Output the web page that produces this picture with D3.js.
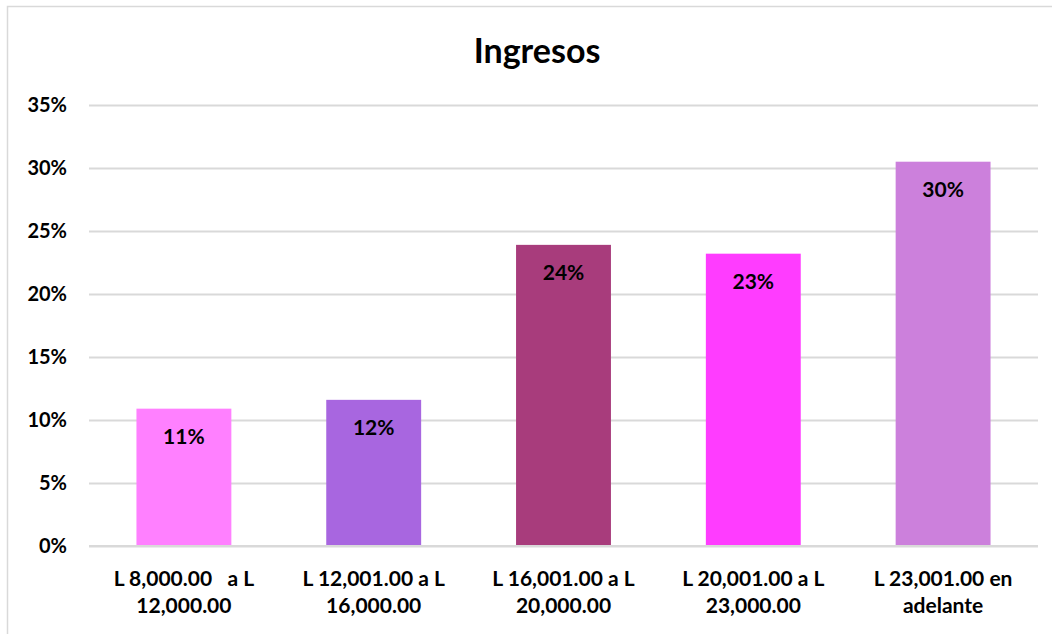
<!DOCTYPE html>
<html>
<head>
<meta charset="utf-8">
<script src="https://cdn.jsdelivr.net/npm/d3@7"></script>
<style>
  body { margin: 0; background: #fff; }
  svg { display: block; font-family: Lato, "Open Sans", sans-serif; }
</style>
</head>
<body>
<div class="ingresos-chart"></div>
<script>
const categories = [
	["L 8,000.00   a L", "12,000.00"],
	["L 12,001.00 a L", "16,000.00"],
	["L 16,001.00 a L", "20,000.00"],
	["L 20,001.00 a L", "23,000.00"],
	["L 23,001.00 en", "adelante"]
];
const values = [0.109, 0.116, 0.239, 0.232, 0.305];
const valueLabels = ["11%", "12%", "24%", "23%", "30%"];
const barColors = ["#ff80ff", "#a866e0", "#a83c7c", "#ff3cff", "#cc80dc"];
const yTicks = [0, 0.05, 0.1, 0.15, 0.2, 0.25, 0.3, 0.35];

const W = 1052, H = 634;
const margin = { top: 105, right: 14, bottom: 88, left: 89 },
	width = W - margin.left - margin.right,
	height = H - margin.top - margin.bottom;

const svg = d3.select(".ingresos-chart")
	.append("svg")
	.attr("width", W)
	.attr("height", H);

// chart area border
svg.append("rect")
	.attr("x", 7.5).attr("y", 6.5)
	.attr("width", W).attr("height", H)
	.attr("fill", "none")
	.attr("stroke", "#d9d9d9")
	.attr("stroke-width", 1.5);

svg.append("text")
	.attr("x", 537)
	.attr("y", 63)
	.attr("text-anchor", "middle")
	.style("font-size", "34px")
	.style("font-weight", "bold")
	.text("Ingresos");

const g = svg.append("g")
	.attr("transform", "translate(" + margin.left + "," + margin.top + ")");

const x = d3.scaleBand()
	.domain(d3.range(values.length))
	.range([0, width])
	.paddingInner(0.5)
	.paddingOuter(0.25);

const y = d3.scaleLinear().domain([0, 0.35]).range([height, 0]);

// gridlines + y labels
const yAxis = g.append("g")
	.call(d3.axisLeft(y).tickValues(yTicks).tickSize(-width).tickFormat(d3.format(".0%")).tickPadding(22));
yAxis.select(".domain").remove();
yAxis.selectAll(".tick line").attr("stroke", "#d9d9d9").attr("stroke-width", 2);
yAxis.selectAll(".tick text")
	.attr("fill", "#000")
	.style("font-size", "20px")
	.style("font-weight", "bold")
	.style("font-family", "Lato, sans-serif");

g.selectAll("rect.bar")
	.data(values)
	.enter()
	.append("rect")
	.attr("class", "bar")
	.attr("x", (d, i) => x(i))
	.attr("y", (d) => y(d))
	.attr("width", x.bandwidth())
	.attr("height", (d) => height - y(d))
	.attr("fill", (d, i) => barColors[i]);

// redraw baseline above bars
g.append("line")
	.attr("x1", 0).attr("x2", width)
	.attr("y1", height).attr("y2", height)
	.attr("stroke", "#d9d9d9").attr("stroke-width", 2);

g.selectAll("text.val")
	.data(values)
	.enter()
	.append("text")
	.attr("class", "val")
	.attr("x", (d, i) => x(i) + x.bandwidth() / 2)
	.attr("y", (d) => y(d) + 35)
	.attr("text-anchor", "middle")
	.style("font-size", "21px")
	.style("font-weight", "bold")
	.text((d, i) => valueLabels[i]);

// category labels
const cat = g.selectAll("text.cat")
	.data(categories)
	.enter()
	.append("text")
	.attr("class", "cat")
	.attr("x", (d, i) => x(i) + x.bandwidth() / 2)
	.attr("y", height + 40)
	.attr("text-anchor", "middle")
	.style("font-size", "21px")
	.style("font-weight", "bold")
	.style("white-space", "pre");
cat.each(function (d) {
	const t = d3.select(this);
	d.forEach((line, k) => {
		t.append("tspan")
			.attr("x", t.attr("x"))
			.attr("dy", k === 0 ? 0 : 27)
			.text(line);
	});
});
</script>
</body>
</html>
